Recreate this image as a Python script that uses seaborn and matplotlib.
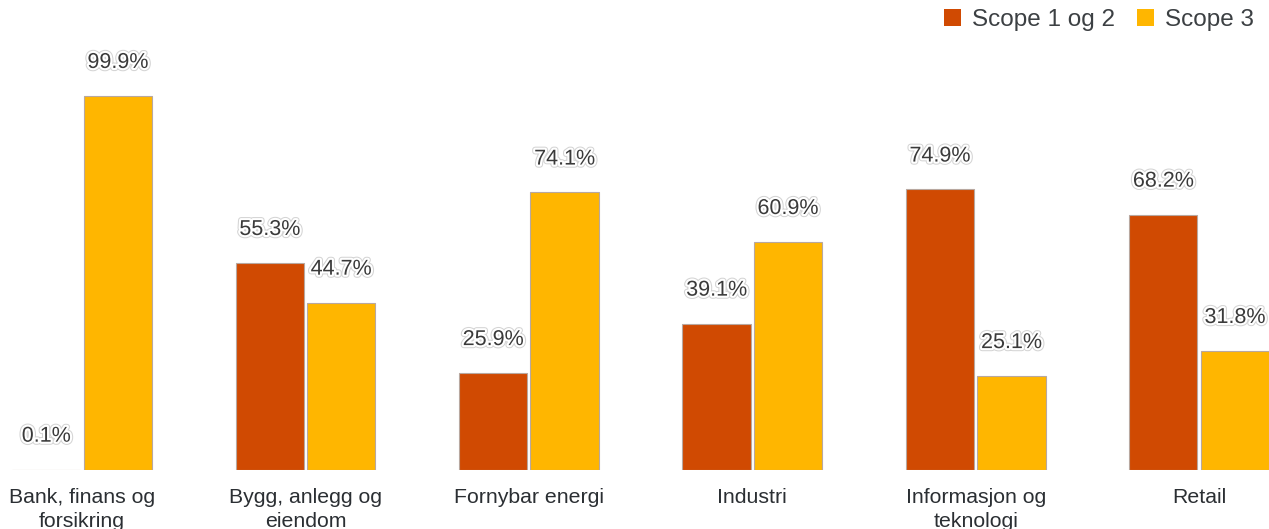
import matplotlib
matplotlib.use("Agg")
import matplotlib.pyplot as plt
import matplotlib.patheffects as pe
from matplotlib.patches import Patch
import seaborn as sns
import pandas as pd

# Share of emissions per sector, split by scope
sectors = [
    "Bank, finans og\nforsikring",
    "Bygg, anlegg og\neiendom",
    "Fornybar energi",
    "Industri",
    "Informasjon og\nteknologi",
    "Retail",
]
scope_1_2 = [0.1, 55.3, 25.9, 39.1, 74.9, 68.2]
scope_3 = [99.9, 44.7, 74.1, 60.9, 25.1, 31.8]
series_names = ["Scope 1 og 2", "Scope 3"]
series_colors = ["#D04A02", "#FFB600"]

df = pd.DataFrame({
    "sector": sectors * 2,
    "share": scope_1_2 + scope_3,
    "scope": [series_names[0]] * len(sectors) + [series_names[1]] * len(sectors),
})

sns.set_theme(style="white")
plt.rcParams["font.family"] = ["Liberation Sans", "DejaVu Sans"]

fig = plt.figure(figsize=(12.69, 5.29), dpi=100)
ax = fig.add_axes([0, 59 / 529, 1, 470 / 529])

sns.barplot(
    data=df, x="sector", y="share", hue="scope",
    order=sectors, hue_order=series_names,
    palette=series_colors, saturation=1, width=0.64, gap=0.045,
    edgecolor="#b8a8a0", linewidth=0.8,
    legend=False, ax=ax,
)

ax.set_xlim(-0.367, 5.313)
ax.set_ylim(0, 125.5)
ax.set_xlabel("")
ax.set_ylabel("")
ax.set_yticks([])
for s in ax.spines.values():
    s.set_visible(False)
ax.tick_params(axis="x", length=0, pad=13, labelsize=15.3, labelcolor="#2b2f33")
for t in ax.get_xticklabels():
    t.set_linespacing(1.3)

halo = [
    pe.Stroke(linewidth=4.5, foreground="#d4d4d4"),
    pe.Stroke(linewidth=3, foreground="white"),
    pe.Normal(),
]
for container in ax.containers:
    labels = [f"{v:.1f}%" for v in container.datavalues]
    texts = ax.bar_label(container, labels=labels, padding=16.5,
                         fontsize=15.5, color="#3a3a3a")
    for t in texts:
        t.set_path_effects(halo)

handles = [Patch(facecolor=c, edgecolor="none") for c in series_colors]
fig.legend(
    handles, series_names, loc="center right",
    bbox_to_anchor=(1.0 + 7 / 1269, 1 - 20 / 529), ncol=2, frameon=False,
    fontsize=17.5, handlelength=0.7, handleheight=0.7,
    handletextpad=0.45, columnspacing=0.9, labelcolor="#3c4043",
)

fig.savefig("out.png", dpi=100)
